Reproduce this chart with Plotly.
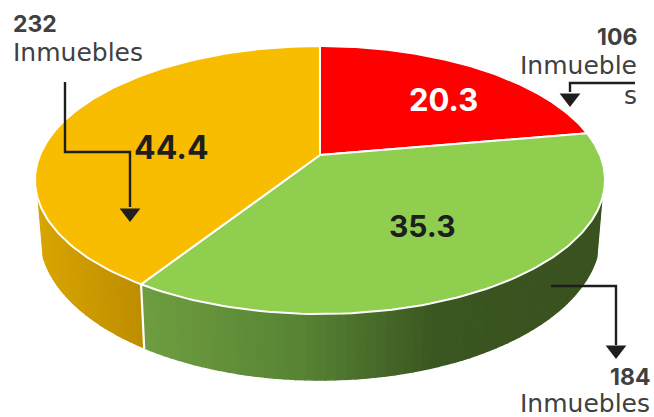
import numpy as np
import plotly.graph_objects as go

# ---- data ----
categories = ["Rojo", "Verde", "Amarillo"]
percent_values = [20.3, 35.3, 44.4]
count_values = [106, 184, 232]
unit_label = "Inmuebles"

# ---- styles ----
top_colors = ["#FF0000", "#8FCE4F", "#F8BC00"]
wall_stops_x = [[0, 1], [145, 300, 430, 520], [40, 145]]
wall_stops_rgb = [
    [(200, 0, 0), (200, 0, 0)],
    [(111, 158, 65), (88, 132, 52), (60, 88, 34), (58, 83, 32)],
    [(216, 165, 0), (190, 141, 0)],
]
FONT_B = "Inter, 'Open Sans', sans-serif"
FONT_R = "'DejaVu Sans', sans-serif"
INK = "#1E1E1E"
GREY = "#404040"

W, H = 654, 417
CX, CY, RX, RY = 320.0, 180.0, 285.0, 134.0      # top ellipse
BX, BY, BRX, BRY = 320.0, 235.0, 280.0, 145.0    # bottom ellipse
K = -0.187      # perspective shift of the pie apex
S = 1.74        # angular stretch of the drawn pie
WALL_CLIP = 0.15


def unit_point(theta):
    phi = np.arctan2(S * np.sin(theta), np.cos(theta))
    u, v = np.sin(phi), -np.cos(phi)
    d = 1 + K * v
    return u * np.sqrt(1 - K * K) / d, (v + K) / d


def top(theta):
    u, v = unit_point(theta)
    return CX + RX * u, CY + RY * v


def bottom(theta):
    u, v = unit_point(theta)
    return BX + BRX * u, BY + BRY * v


shares = np.array(percent_values) / sum(percent_values)
edges = np.concatenate([[0], np.cumsum(shares)]) * 2 * np.pi
apex = (CX, CY + RY * K)

fig = go.Figure()

# side wall, split in small strips to shade it
for i in range(len(percent_values)):
    ts = np.linspace(edges[i], edges[i + 1], 130)
    _, vs = unit_point(ts)
    ts = ts[vs >= WALL_CLIP]
    if len(ts) < 2:
        continue
    for a, b in zip(ts[:-1], ts[1:]):
        xa, ya = top(a); xb, yb = top(b)
        xc, yc = bottom(b); xd, yd = bottom(a)
        mx = (xa + xb + xc + xd) / 4
        rgb = [np.interp(mx, wall_stops_x[i], [c[k] for c in wall_stops_rgb[i]]) for k in range(3)]
        col = "rgb(%d,%d,%d)" % tuple(rgb)
        fig.add_trace(go.Scatter(x=[xa, xb, xc, xd, xa], y=[ya, yb, yc, yd, ya], mode="lines",
                                 fill="toself", fillcolor=col, line=dict(color=col, width=1.5),
                                 hoverinfo="skip", showlegend=False))

# white seam between the walls
seam = edges[2]
sx0, sy0 = top(seam); sx1, sy1 = bottom(seam)
fig.add_trace(go.Scatter(x=[sx0, sx1], y=[sy0, sy1 + 1], mode="lines", line=dict(color="white", width=2.2),
                         hoverinfo="skip", showlegend=False))

# top face
for i, name in enumerate(categories):
    ts = np.linspace(edges[i], edges[i + 1], 160)
    xs, ys = top(ts)
    px = np.concatenate([[apex[0]], xs, [apex[0]]])
    py = np.concatenate([[apex[1]], ys, [apex[1]]])
    fig.add_trace(go.Scatter(x=px, y=py, mode="lines", fill="toself", fillcolor=top_colors[i],
                             line=dict(color="white", width=2), name=name,
                             hoverinfo="skip", showlegend=False))

# callout arrows
callouts = [
    ([65, 65, 130, 130], [82, 152, 152, 207], (130, 213)),
    ([635, 570, 570], [83, 83, 92], (570, 98)),
    ([551, 616, 616], [286, 286, 345], (616, 350)),
]
for xs, ys, head in callouts:
    fig.add_trace(go.Scatter(x=xs, y=ys, mode="lines", line=dict(color=INK, width=2.4),
                             hoverinfo="skip", showlegend=False))
    fig.add_trace(go.Scatter(x=[head[0]], y=[head[1]], mode="markers",
                             marker=dict(symbol="triangle-down", size=18, color=INK, line=dict(width=0)),
                             hoverinfo="skip", showlegend=False))


def label(x, y, text, size, color, bold=False, anchor="left"):
    fig.add_annotation(x=x, y=y, text="<b>%s</b>" % text if bold else text, showarrow=False,
                       xanchor=anchor, yanchor="middle", xref="x", yref="y",
                       font=dict(family=FONT_B if bold else FONT_R, size=size, color=color),
                       borderpad=0, borderwidth=0)


label(443, 99, "%.1f" % percent_values[0], 31, "white", True, "center")
label(422, 226, "%.1f" % percent_values[1], 30, INK, True, "center")
label(171, 147, "%.1f" % percent_values[2], 32, INK, True, "center")

label(13, 24, str(count_values[2]), 23, GREY, True)
label(13, 52, unit_label, 25, GREY)
label(637, 37, str(count_values[0]), 23, GREY, True, "right")
label(637, 65, unit_label[:-1], 25, GREY, False, "right")
label(637, 95, unit_label[-1], 25, GREY, False, "right")
label(650, 377, str(count_values[1]), 23, GREY, True, "right")
label(650, 403, unit_label, 25, GREY, False, "right")

fig.update_layout(width=W, height=H, margin=dict(l=0, r=0, t=0, b=0),
                  paper_bgcolor="white", plot_bgcolor="white", showlegend=False,
                  xaxis=dict(range=[0, W], visible=False, fixedrange=True),
                  yaxis=dict(range=[H, 0], visible=False, fixedrange=True))
fig.write_html("out.html", config={"displayModeBar": False},
               post_script="document.body.style.margin='0';document.body.style.overflow='hidden';")
